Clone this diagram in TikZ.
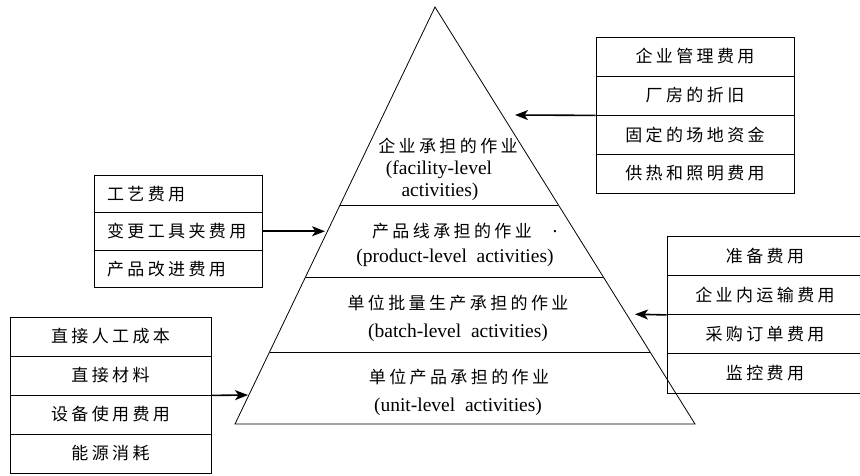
\documentclass[tikz,border=0pt]{standalone}
\usepackage{fontspec}
\setmainfont{Liberation Serif}
\newfontfamily\cjk[LetterSpace=20]{Noto Sans CJK SC}
\usetikzlibrary{arrows.meta,calc}
\begin{document}
\begin{tikzpicture}[x=1pt,y=-1pt,
  cell/.style={draw, line width=0.8pt, inner sep=0pt, font=\cjk\fontsize{17}{17}\selectfont},
  leftcell/.style={cell, text width=142pt, align=left, inner xsep=13pt, minimum height=37.5pt},
  tiercn/.style={inner sep=0pt, font=\cjk\fontsize{17}{17}\selectfont},
  tieren/.style={inner sep=0pt, font=\fontsize{19.5}{19.5}\selectfont},
  arr/.style={line width=1.6pt, -{Stealth[length=13pt,width=10pt,inset=3.5pt]}},
  edge/.style={line width=0.8pt}
]
\useasboundingbox (0,0) rectangle (860,475);
\clip (0,0) rectangle (860,475);

% pyramid
\coordinate (apex) at (435,7);
\coordinate (pbl) at (235,424);
\coordinate (pbr) at (695,424);
\draw[edge] (apex) -- (pbr) -- (pbl) -- cycle;
\draw[edge] ($(apex)!0.4748!(pbl)$) -- ($(apex)!0.4748!(pbr)$);
\draw[edge] ($(apex)!0.6475!(pbl)$) -- ($(apex)!0.6475!(pbr)$);
\draw[edge] ($(apex)!0.8273!(pbl)$) -- ($(apex)!0.8273!(pbr)$);

% tier texts
\node[tiercn] (t1a) at (448,146) {企业承担的作业};
\node[tieren] (t1b) at (439,170) {(facility-level};
\node[tieren] (t1c) at (440,192) {activities)};
\node[tiercn] (t2a) at (452,231) {产品线承担的作业};
\node[tieren] (t2d) at (555,232) {.};
\node[tieren] (t2b) at (455,258) {(product-level\ \ activities)};
\node[tiercn] (t3a) at (458,303) {单位批量生产承担的作业};
\node[tieren] (t3b) at (458,333) {(batch-level\ \ activities)};
\node[tiercn] (t4a) at (459,377) {单位产品承担的作业};
\node[tieren] (t4b) at (458,407) {(unit-level\ \ activities)};

% top right box
\begin{scope}[every node/.style={cell, minimum width=198pt, minimum height=39pt}]
\node (tr1) at (695,56.5) {企业管理费用};
\node (tr2) at (695,95.5) {厂房的折旧};
\node (tr3) at (695,134.5) {固定的场地资金};
\node (tr4) at (695,173.5) {供热和照明费用};
\end{scope}

% left middle box
\node[leftcell] (lm1) at (178,193.75) {工艺费用};
\node[leftcell] (lm2) at (178,231.25) {变更工具夹费用};
\node[leftcell] (lm3) at (178,268.75) {产品改进费用};

% right middle box
\begin{scope}[every node/.style={cell, minimum width=196pt, minimum height=39.25pt}]
\node (rm1) at (765,255.6) {准备费用};
\node (rm2) at (765,294.9) {企业内运输费用};
\node (rm3) at (765,334.1) {采购订单费用};
\node (rm4) at (765,373.4) {监控费用};
\end{scope}

% bottom left box
\begin{scope}[every node/.style={cell, minimum width=201pt, minimum height=39pt}]
\node (bl1) at (110.5,336.5) {直接人工成本};
\node (bl2) at (110.5,375.5) {直接材料};
\node (bl3) at (110.5,414.5) {设备使用费用};
\node (bl4) at (110.5,453.5) {能源消耗};
\end{scope}

% arrow tips
\coordinate (a1) at (515,115);
\coordinate (a2) at (325,231.25);
\coordinate (a3) at (635,314.2);
\coordinate (a4) at (248,395);

\draw[arr] (tr2.south west) -- (a1);
\draw[arr] (lm2.east) -- (a2);
\draw[arr] (rm2.south west) -- (a3);
\draw[arr] (bl2.south east) -- (a4);
\end{tikzpicture}
\end{document}
